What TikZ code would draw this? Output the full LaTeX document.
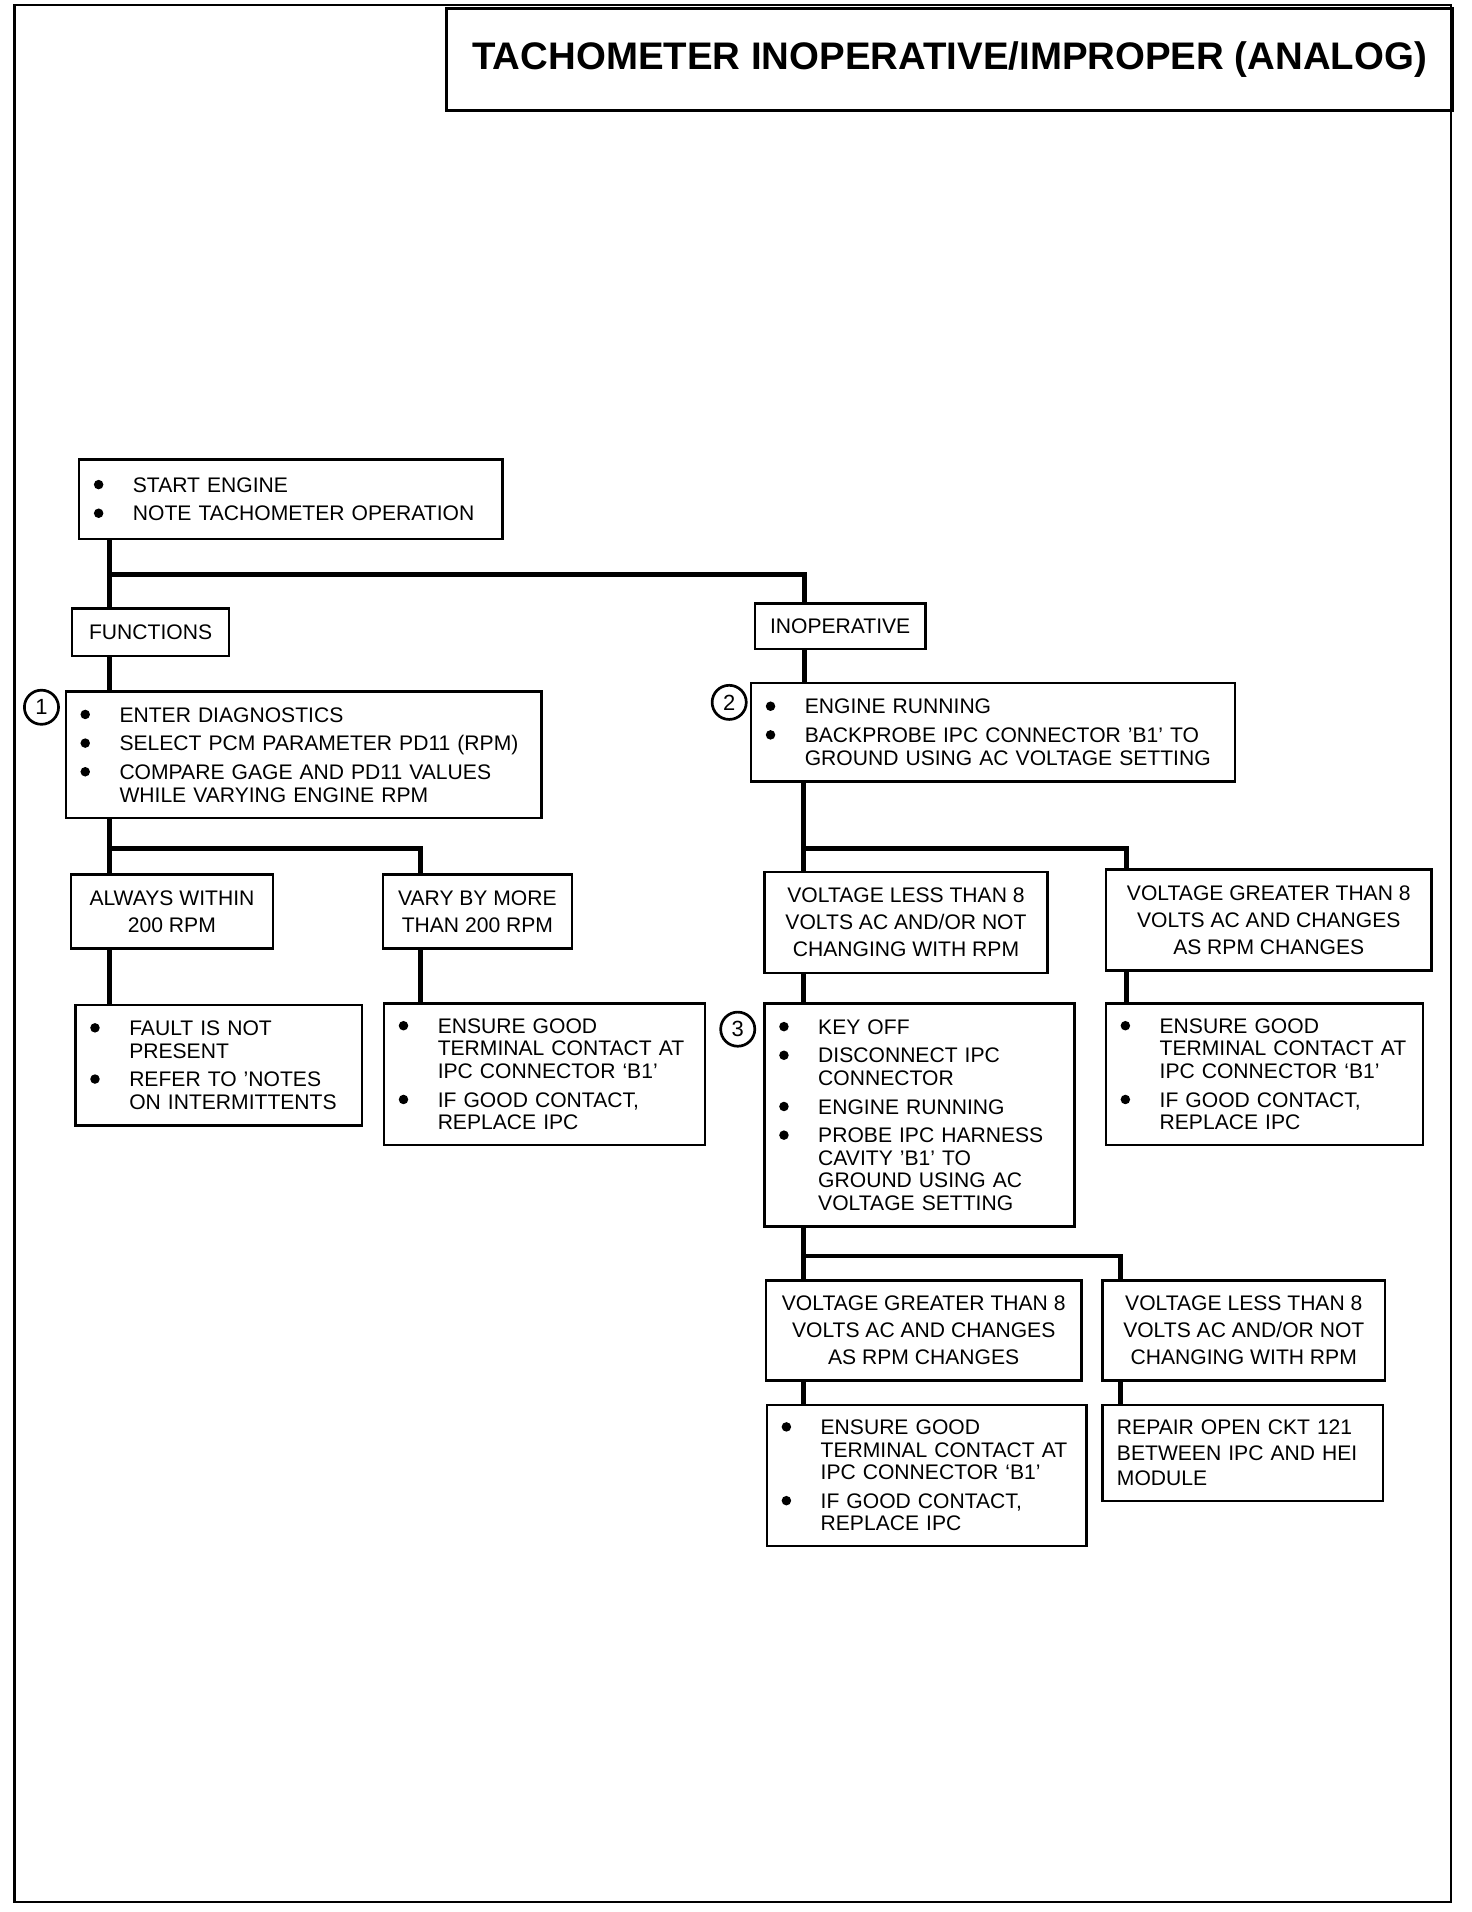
\documentclass[tikz,border=0pt]{standalone}
\usepackage{fontspec}
\setmainfont{Liberation Sans}
\newcommand{\dotmark}{\tikz[baseline=-6.3pt]\fill (0,0) circle (3.9pt);}
\newcommand{\bul}{\hspace*{12pt}\makebox[32pt][l]{\dotmark}}
\newcommand{\cont}{\hspace*{44pt}}
\newcommand{\pad}{\hspace*{12pt}}

\begin{document}
\begin{tikzpicture}[
    x=1pt, y=-1pt,
    every node/.style={font=\fontsize{17.3}{18.5}\selectfont},
    box/.style={rectangle, draw, line width=2pt, anchor=north west, inner sep=0pt},
    centerbox/.style={box, align=center, font=\fontsize{17.3}{22}\selectfont},
    listbox/.style={box, align=left},
    link/.style={line width=3.8pt},
    num/.style={circle, draw, line width=2.2pt, minimum size=28pt, inner sep=0pt, font=\fontsize{18}{18}\selectfont}
]
\useasboundingbox (0,0) rectangle (1207,1568);
\draw[line width=2pt] (12,4) rectangle (1190,1560);
\node[box, line width=2.5pt, minimum width=825pt, minimum height=83pt, font=\bfseries\fontsize{31.5}{31.5}\selectfont] (title) at (365,6) {TACHOMETER INOPERATIVE/IMPROPER (ANALOG)};

% left branch
\node[listbox, text width=347pt, minimum height=65pt] (start) at (64,376) {\bul START ENGINE\\[5pt]\bul NOTE TACHOMETER OPERATION};
\node[centerbox, minimum width=129pt, minimum height=39pt] (func) at (58,498) {FUNCTIONS};
\node[listbox, text width=390pt, minimum height=104pt] (diag) at (53,566) {\bul ENTER DIAGNOSTICS\\[5pt]\bul SELECT PCM PARAMETER PD11 (RPM)\\[5pt]\bul COMPARE GAGE AND PD11 VALUES\\\cont WHILE VARYING ENGINE RPM};
\node[num] (n1) at (34,580) {1};
\node[centerbox, minimum width=166pt, minimum height=61pt] (within) at (57,716) {ALWAYS WITHIN\\200 RPM};
\node[centerbox, minimum width=155pt, minimum height=61pt] (vary) at (313,716) {VARY BY MORE\\THAN 200 RPM};
\node[listbox, text width=235pt, minimum height=99pt] (fault) at (61,823) {\bul FAULT IS NOT\\\cont PRESENT\\[5pt]\bul REFER TO ’NOTES\\\cont ON INTERMITTENTS};
\node[listbox, text width=263pt, minimum height=116pt] (ensureL) at (314,822) {\bul ENSURE GOOD\\\cont TERMINAL CONTACT AT\\\cont IPC CONNECTOR ‘B1’\\[5pt]\bul IF GOOD CONTACT,\\\cont REPLACE IPC};

% right branch
\node[centerbox, minimum width=140pt, minimum height=37pt] (inop) at (618,494) {INOPERATIVE};
\node[listbox, text width=397pt, minimum height=81pt] (probe) at (615,559) {\bul ENGINE RUNNING\\[5pt]\bul BACKPROBE IPC CONNECTOR ’B1’ TO\\\cont GROUND USING AC VOLTAGE SETTING};
\node[num] (n2) at (598,576) {2};
\node[centerbox, minimum width=232pt, minimum height=83pt] (vlow) at (626,714) {VOLTAGE LESS THAN 8\\VOLTS AC AND/OR NOT\\CHANGING WITH RPM};
\node[centerbox, minimum width=267pt, minimum height=83pt] (vhigh) at (906,712) {VOLTAGE GREATER THAN 8\\VOLTS AC AND CHANGES\\AS RPM CHANGES};
\node[listbox, text width=254pt, minimum height=183pt] (keyoff) at (626,822) {\bul KEY OFF\\[5pt]\bul DISCONNECT IPC\\\cont CONNECTOR\\[5pt]\bul ENGINE RUNNING\\[5pt]\bul PROBE IPC HARNESS\\\cont CAVITY ’B1’ TO\\\cont GROUND USING AC\\\cont VOLTAGE SETTING};
\node[num] (n3) at (605,844) {3};
\node[listbox, text width=260pt, minimum height=116pt] (ensureR) at (906,822) {\bul ENSURE GOOD\\\cont TERMINAL CONTACT AT\\\cont IPC CONNECTOR ‘B1’\\[5pt]\bul IF GOOD CONTACT,\\\cont REPLACE IPC};
\node[centerbox, minimum width=259pt, minimum height=82pt] (vhigh2) at (627,1049) {VOLTAGE GREATER THAN 8\\VOLTS AC AND CHANGES\\AS RPM CHANGES};
\node[centerbox, minimum width=232pt, minimum height=82pt] (vlow2) at (903,1049) {VOLTAGE LESS THAN 8\\VOLTS AC AND/OR NOT\\CHANGING WITH RPM};
\node[listbox, text width=262pt, minimum height=116pt] (ensureB) at (628,1151) {\bul ENSURE GOOD\\\cont TERMINAL CONTACT AT\\\cont IPC CONNECTOR ‘B1’\\[5pt]\bul IF GOOD CONTACT,\\\cont REPLACE IPC};
\node[listbox, text width=230pt, minimum height=79pt, font=\fontsize{17.3}{21}\selectfont] (repair) at (903,1151) {\pad REPAIR OPEN CKT 121\\\pad BETWEEN IPC AND HEI\\\pad MODULE};

% junctions
\coordinate (ja) at (90,471);
\coordinate (jb) at (660,471);
\coordinate (jc) at (90,696);
\coordinate (jd) at (345,696);
\coordinate (je) at (659,696);
\coordinate (jf) at (924,696);
\coordinate (jg) at (659,1030);
\coordinate (jh) at (919,1030);

\draw[link] (start.south -| ja) -- (ja) -- (jb) -- (inop.north -| jb);
\draw[link] (ja) -- (func.north -| ja);
\draw[link] (func.south -| ja) -- (diag.north -| ja);
\draw[link] (inop.south -| jb) -- (probe.north -| jb);
\draw[link] (diag.south -| jc) -- (jc) -- (jd) -- (vary.north -| jd);
\draw[link] (jc) -- (within.north -| jc);
\draw[link] (within.south -| jc) -- (fault.north -| jc);
\draw[link] (vary.south -| jd) -- (ensureL.north -| jd);
\draw[link] (probe.south -| je) -- (je) -- (jf) -- (vhigh.north -| jf);
\draw[link] (je) -- (vlow.north -| je);
\draw[link] (vlow.south -| je) -- (keyoff.north -| je);
\draw[link] (vhigh.south -| jf) -- (ensureR.north -| jf);
\draw[link] (keyoff.south -| jg) -- (jg) -- (jh) -- (vlow2.north -| jh);
\draw[link] (jg) -- (vhigh2.north -| jg);
\draw[link] (vhigh2.south -| jg) -- (ensureB.north -| jg);
\draw[link] (vlow2.south -| jh) -- (repair.north -| jh);
\end{tikzpicture}
\end{document}
